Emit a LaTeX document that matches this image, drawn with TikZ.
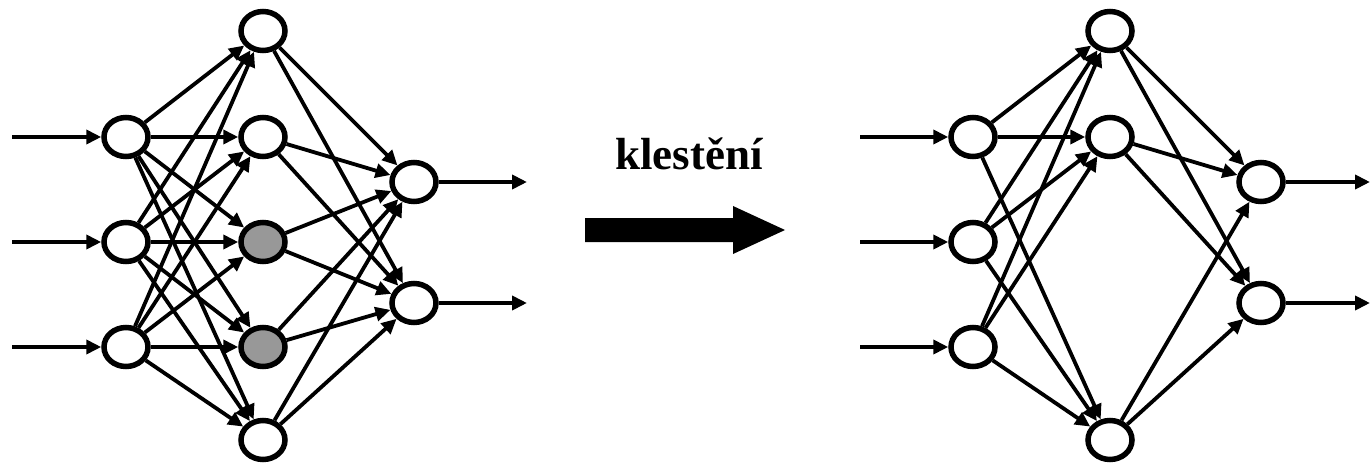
\documentclass[tikz,border=0pt]{standalone}
\usepackage{fontspec}
\setmainfont{Liberation Serif}
\usetikzlibrary{arrows.meta,shapes.geometric}
\definecolor{prgray}{RGB}{152,152,152}
\begin{document}
\begin{tikzpicture}[x=1pt,y=-1pt,
  neuron/.style={ellipse,draw,line width=5.5pt,minimum width=44pt,minimum height=39pt,inner sep=0pt,fill=white},
  pruned/.style={neuron,fill=prgray},
  conn/.style={line width=3.8pt,-{Triangle[length=15pt,width=14pt]}},
  blockarrow/.style={fill=black,draw=none}
]
\useasboundingbox (0,0) rectangle (1370,465);

% ---------- left network ----------
\node[neuron] (i1) at (126,137) {};
\node[neuron] (i2) at (126,242) {};
\node[neuron] (i3) at (126,347) {};
\node[neuron] (h1) at (263,31) {};
\node[neuron] (h2) at (263,137) {};
\node[pruned] (h3) at (263,242) {};
\node[pruned] (h4) at (263,347) {};
\node[neuron] (h5) at (263,440) {};
\node[neuron] (o1) at (414,182) {};
\node[neuron] (o2) at (414,303) {};

\coordinate (s1) at (12,137);
\coordinate (s2) at (12,242);
\coordinate (s3) at (12,347);
\coordinate (e1) at (527,182);
\coordinate (e2) at (527,303);

\foreach \k in {1,2,3} \draw[conn] (s\k) -- (i\k);
\foreach \a in {1,2,3} \foreach \b in {1,...,5} \draw[conn] (i\a) -- (h\b);
\foreach \b in {1,...,5} \foreach \c in {1,2} \draw[conn] (h\b) -- (o\c);
\draw[conn] (o1) -- (e1);
\draw[conn] (o2) -- (e2);

% ---------- arrow and label ----------
\node[font=\bfseries\fontsize{45}{50}\selectfont,anchor=base,inner sep=0pt] (lbl) at (689,170) {klestění};
\fill[blockarrow] (585,218) -- (733,218) -- (733,206) -- (785,230) -- (733,254) -- (733,242) -- (585,242) -- cycle;

% ---------- right network ----------
\node[neuron] (ri1) at (973,137) {};
\node[neuron] (ri2) at (973,242) {};
\node[neuron] (ri3) at (973,347) {};
\node[neuron] (rh1) at (1110,31) {};
\node[neuron] (rh2) at (1110,137) {};
\node[neuron] (rh5) at (1110,440) {};
\node[neuron] (ro1) at (1261,182) {};
\node[neuron] (ro2) at (1261,303) {};

\coordinate (rs1) at (860,137);
\coordinate (rs2) at (860,242);
\coordinate (rs3) at (860,347);
\coordinate (re1) at (1370,182);
\coordinate (re2) at (1370,303);

\foreach \k in {1,2,3} \draw[conn] (rs\k) -- (ri\k);
\foreach \a in {1,2,3} \foreach \b in {1,2,5} \draw[conn] (ri\a) -- (rh\b);
\foreach \b in {1,2,5} \foreach \c in {1,2} \draw[conn] (rh\b) -- (ro\c);
\draw[conn] (ro1) -- (re1);
\draw[conn] (ro2) -- (re2);
\end{tikzpicture}
\end{document}
